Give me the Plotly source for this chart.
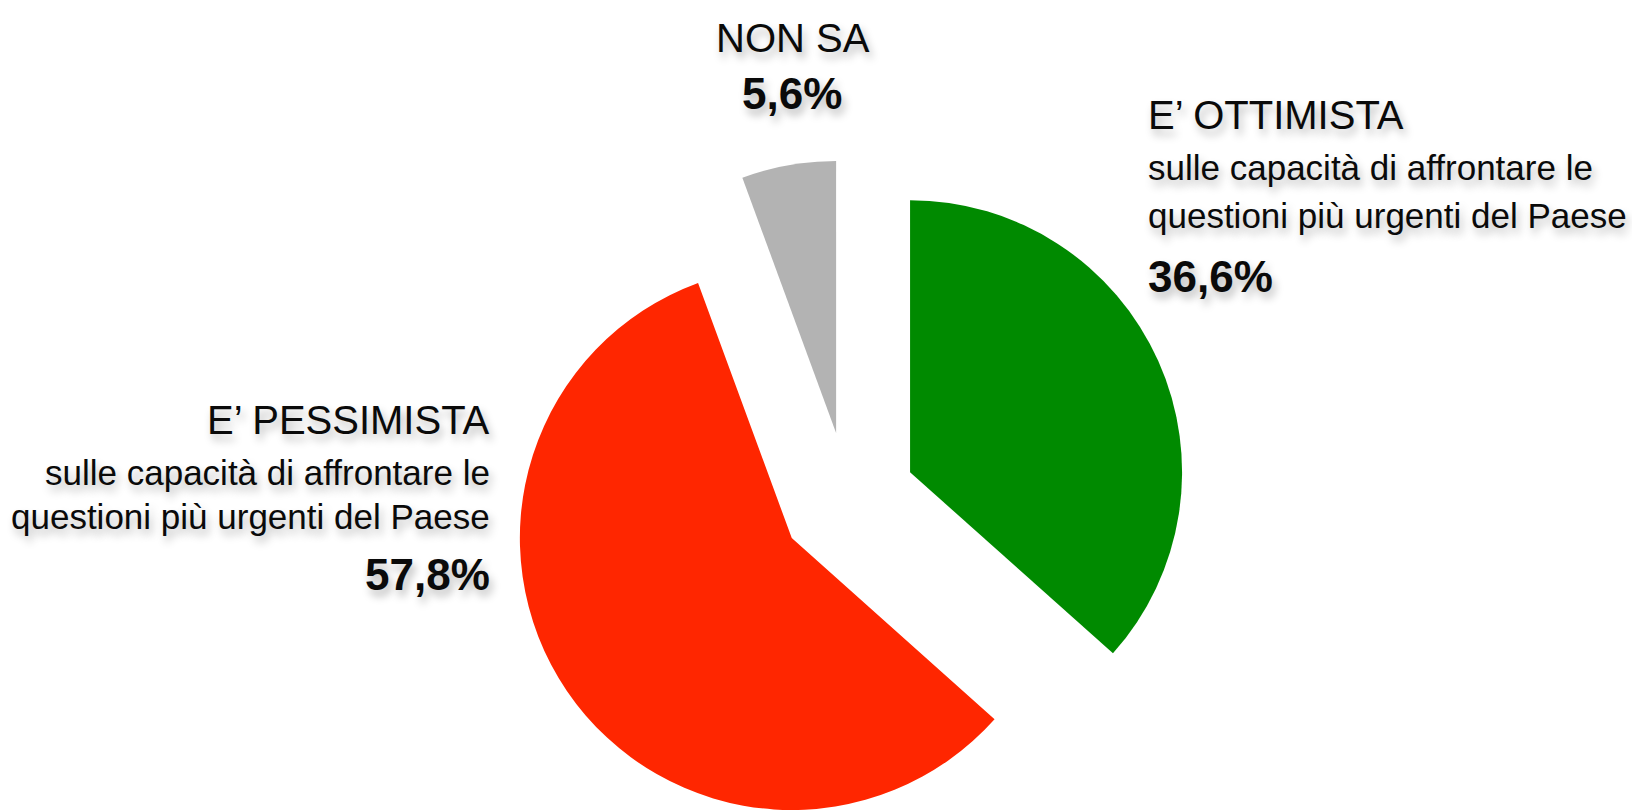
import math
import plotly.graph_objects as go

# ---- data ----
categories = ["E’ OTTIMISTA", "E’ PESSIMISTA", "NON SA"]
values = [36.6, 57.8, 5.6]
value_labels = ["36,6%", "57,8%", "5,6%"]
subtitle_lines = ["sulle capacità di affrontare le", "questioni più urgenti del Paese"]
colors = ["#008A00", "#FF2600", "#B3B3B3"]

W, H = 1632, 810
CX, CY = 848, 500      # pie centre (px)
R = 272                # pie radius (px)
PULL = 68              # explode distance (px)
FONT = "Liberation Sans, Arial, Helvetica, sans-serif"
SHADOW = "3px 6px 8px rgba(0,0,0,0.28)"

fig = go.Figure()
total = sum(values)
cum = 0.0
for i, v in enumerate(values):
    mid = (cum + v / 2) / total * 2 * math.pi
    cum += v
    ax = CX + PULL * math.sin(mid)
    ay = CY - PULL * math.cos(mid)
    dx = [max(0, (ax - R) / W), min(1, (ax + R) / W)]
    dy = [max(0, 1 - (ay + R) / H), min(1, 1 - (ay - R) / H)]
    cols = [c if j == i else "rgba(0,0,0,0)" for j, c in enumerate(colors)]
    fig.add_trace(go.Pie(
        labels=categories, values=values, sort=False, direction="clockwise",
        rotation=0, marker=dict(colors=cols, line=dict(width=0)),
        textinfo="none", hoverinfo="label+percent", showlegend=False,
        domain=dict(x=dx, y=dy),
    ))

def ann(text, x, y, size, xanchor, bold=False):
    fig.add_annotation(
        text=f"<b>{text}</b>" if bold else text,
        x=x / W, y=1 - y / H, xref="paper", yref="paper",
        xanchor=xanchor, yanchor="middle", showarrow=False,
        font=dict(family=FONT, size=size, color="#0a0a0a", shadow=SHADOW),
    )

# NON SA
ann(categories[2], 793, 38, 40, "center")
ann(value_labels[2], 792, 93, 44, "center", bold=True)
# OTTIMISTA (right)
ann(categories[0], 1146, 115, 40, "left")
ann(subtitle_lines[0], 1146, 168, 35, "left")
ann(subtitle_lines[1], 1146, 216, 35, "left")
ann(value_labels[0], 1146, 277, 44, "left", bold=True)
# PESSIMISTA (left)
ann(categories[1], 492, 420, 40, "right")
ann(subtitle_lines[0], 492, 472, 35, "right")
ann(subtitle_lines[1], 492, 516, 35, "right")
ann(value_labels[1], 492, 574, 44, "right", bold=True)

fig.update_layout(
    width=W, height=H, margin=dict(l=0, r=0, t=0, b=0),
    paper_bgcolor="white", plot_bgcolor="white",
)
fig.write_html("out.html", config={"displayModeBar": False},
               post_script="document.body.style.margin='0';")
